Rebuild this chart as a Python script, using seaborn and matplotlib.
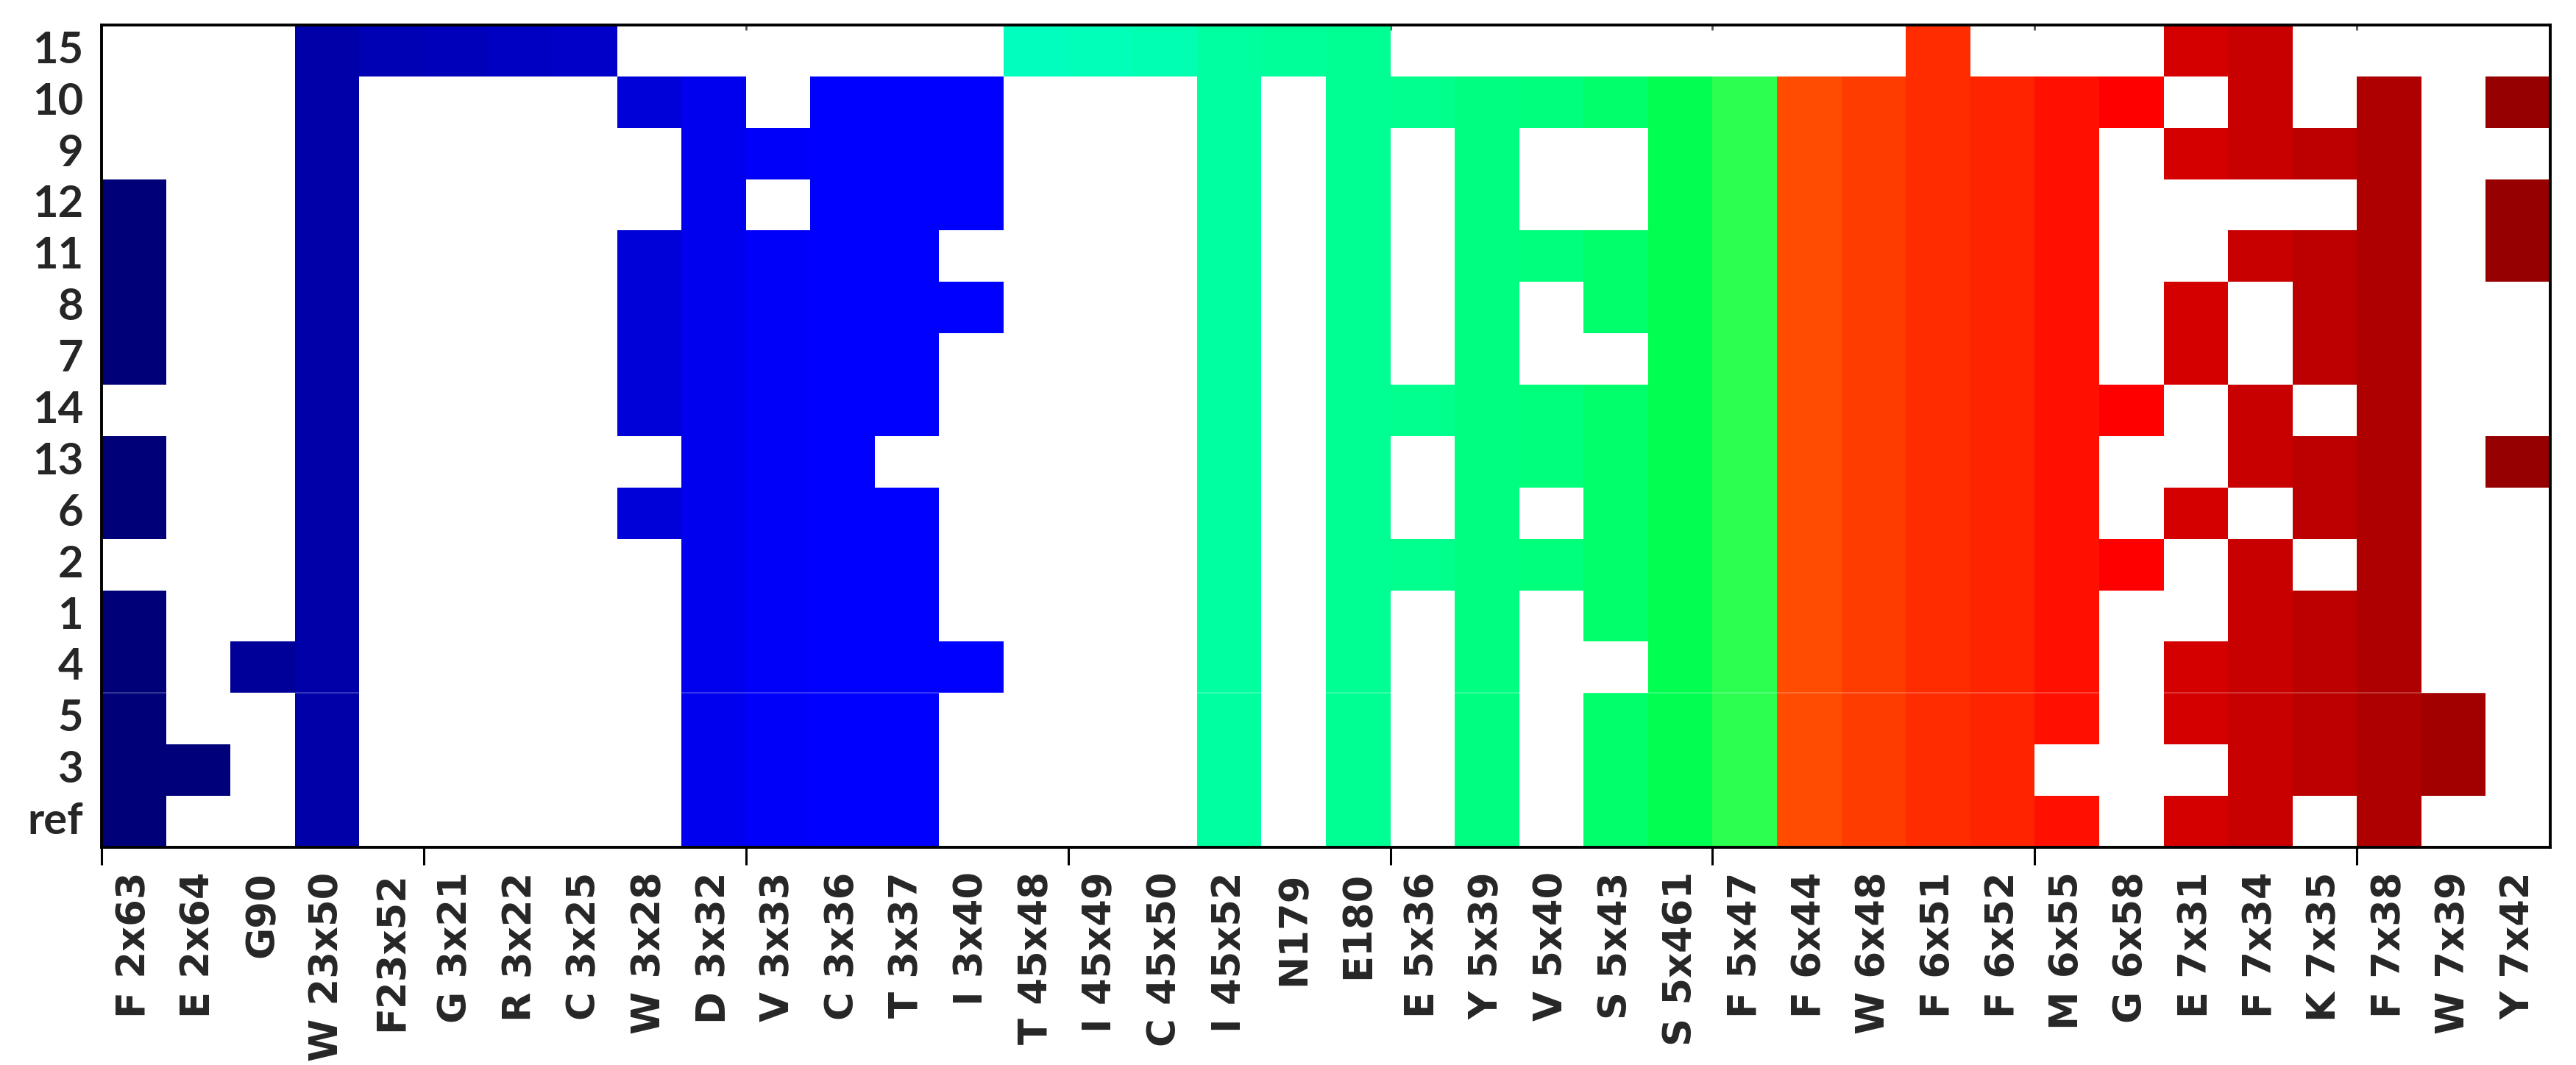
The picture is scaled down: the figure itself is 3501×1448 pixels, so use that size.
import numpy as np
import pandas as pd
import matplotlib
matplotlib.use("Agg")
import matplotlib.pyplot as plt
import seaborn as sns
from matplotlib.colors import ListedColormap

sns.set_style("white")
plt.rcParams["font.family"] = ["DejaVu Sans"]

row_labels = ["15", "10", "9", "12", "11", "8", "7", "14", "13", "6", "2", "1", "4", "5", "3", "ref"]

col_labels = ["F 2x63", "E 2x64", "G90", "W 23x50", "F23x52", "G 3x21", "R 3x22", "C 3x25",
              "W 3x28", "D 3x32", "V 3x33", "C 3x36", "T 3x37", "I 3x40", "T 45x48", "I 45x49",
              "C 45x50", "I 45x52", "N179", "E180", "E 5x36", "Y 5x39", "V 5x40", "S 5x43",
              "S 5x461", "F 5x47", "F 6x44", "W 6x48", "F 6x51", "F 6x52", "M 6x55", "G 6x58",
              "E 7x31", "F 7x34", "K 7x35", "F 7x38", "W 7x39", "Y 7x42"]

col_colors = ["#000078", "#00007a", "#000098", "#0000a8", "#0000b4", "#0000bb", "#0000c2", "#0000c9",
              "#0000d8", "#0000ee", "#0000fa", "#0000ff", "#0000ff", "#0000ff", "#00ffbe", "#00ffb8",
              "#00ffb0", "#00ff9e", "#00ff98", "#00ff92", "#00ff8c", "#00ff80", "#00ff7a", "#00ff6a",
              "#00ff50", "#2cff50", "#ff4c00", "#ff3c00", "#ff2c00", "#ff2400", "#ff1000", "#ff0000",
              "#d40000", "#c80000", "#bc0000", "#ae0000", "#a20000", "#960000"]

# presence per column, rows ordered as row_labels (top to bottom)
F_2x63  = [0,0,0,1,1,1,1,0,1,1,0,1,1,1,1,1]
E_2x64  = [0,0,0,0,0,0,0,0,0,0,0,0,0,0,1,0]
G90     = [0,0,0,0,0,0,0,0,0,0,0,0,1,0,0,0]
W_23x50 = [1,1,1,1,1,1,1,1,1,1,1,1,1,1,1,1]
F23x52  = [1,0,0,0,0,0,0,0,0,0,0,0,0,0,0,0]
G_3x21  = [1,0,0,0,0,0,0,0,0,0,0,0,0,0,0,0]
R_3x22  = [1,0,0,0,0,0,0,0,0,0,0,0,0,0,0,0]
C_3x25  = [1,0,0,0,0,0,0,0,0,0,0,0,0,0,0,0]
W_3x28  = [0,1,0,0,1,1,1,1,0,1,0,0,0,0,0,0]
D_3x32  = [0,1,1,1,1,1,1,1,1,1,1,1,1,1,1,1]
V_3x33  = [0,0,1,0,1,1,1,1,1,1,1,1,1,1,1,1]
C_3x36  = [0,1,1,1,1,1,1,1,1,1,1,1,1,1,1,1]
T_3x37  = [0,1,1,1,1,1,1,1,0,1,1,1,1,1,1,1]
I_3x40  = [0,1,1,1,0,1,0,0,0,0,0,0,1,0,0,0]
T_45x48 = [1,0,0,0,0,0,0,0,0,0,0,0,0,0,0,0]
I_45x49 = [1,0,0,0,0,0,0,0,0,0,0,0,0,0,0,0]
C_45x50 = [1,0,0,0,0,0,0,0,0,0,0,0,0,0,0,0]
I_45x52 = [1,1,1,1,1,1,1,1,1,1,1,1,1,1,1,1]
N179    = [1,0,0,0,0,0,0,0,0,0,0,0,0,0,0,0]
E180    = [1,1,1,1,1,1,1,1,1,1,1,1,1,1,1,1]
E_5x36  = [0,1,0,0,0,0,0,1,0,0,1,0,0,0,0,0]
Y_5x39  = [0,1,1,1,1,1,1,1,1,1,1,1,1,1,1,1]
V_5x40  = [0,1,0,0,1,0,0,1,1,0,1,0,0,0,0,0]
S_5x43  = [0,1,0,0,1,1,0,1,1,1,1,1,0,1,1,1]
S_5x461 = [0,1,1,1,1,1,1,1,1,1,1,1,1,1,1,1]
F_5x47  = [0,1,1,1,1,1,1,1,1,1,1,1,1,1,1,1]
F_6x44  = [0,1,1,1,1,1,1,1,1,1,1,1,1,1,1,1]
W_6x48  = [0,1,1,1,1,1,1,1,1,1,1,1,1,1,1,1]
F_6x51  = [1,1,1,1,1,1,1,1,1,1,1,1,1,1,1,1]
F_6x52  = [0,1,1,1,1,1,1,1,1,1,1,1,1,1,1,1]
M_6x55  = [0,1,1,1,1,1,1,1,1,1,1,1,1,1,0,1]
G_6x58  = [0,1,0,0,0,0,0,1,0,0,1,0,0,0,0,0]
E_7x31  = [1,0,1,0,0,1,1,0,0,1,0,0,1,1,0,1]
F_7x34  = [1,1,1,0,1,0,0,1,1,0,1,1,1,1,1,1]
K_7x35  = [0,0,1,0,1,1,1,0,1,1,0,1,1,1,1,0]
F_7x38  = [0,1,1,1,1,1,1,1,1,1,1,1,1,1,1,1]
W_7x39  = [0,0,0,0,0,0,0,0,0,0,0,0,0,1,1,0]
Y_7x42  = [0,1,0,1,1,0,0,0,1,0,0,0,0,0,0,0]

presence = [F_2x63, E_2x64, G90, W_23x50, F23x52, G_3x21, R_3x22, C_3x25, W_3x28, D_3x32,
            V_3x33, C_3x36, T_3x37, I_3x40, T_45x48, I_45x49, C_45x50, I_45x52, N179, E180,
            E_5x36, Y_5x39, V_5x40, S_5x43, S_5x461, F_5x47, F_6x44, W_6x48, F_6x51, F_6x52,
            M_6x55, G_6x58, E_7x31, F_7x34, K_7x35, F_7x38, W_7x39, Y_7x42]

pres = np.array(presence).T  # rows x cols
ncol = len(col_labels)
nrow = len(row_labels)
vals = np.where(pres == 1, np.arange(ncol)[None, :].astype(float), np.nan)
df = pd.DataFrame(vals, index=row_labels, columns=col_labels)

fig = plt.figure(figsize=(35.01, 14.48), dpi=100)
ax = fig.add_axes([0.0394, 0.2044, 0.9506, 0.7722])

sns.heatmap(df, cmap=ListedColormap(col_colors), vmin=-0.5, vmax=ncol - 0.5,
            cbar=False, ax=ax, linewidths=0)

ax.axhline(13, color="white", alpha=0.25, lw=1.2)

# x ticks: major at every 5 column edges, labels on minor ticks at centres
ax.set_xticks(np.arange(0, ncol, 5))
ax.set_xticklabels([])
ax.set_xticks(np.arange(ncol) + 0.5, minor=True)
ax.set_xticklabels(col_labels, minor=True, rotation=90, fontsize=38, fontweight="bold",
                   family="DejaVu Sans")
ax.tick_params(axis="x", which="major", direction="out", length=17, width=2.2,
               color="black", bottom=True)
ax.tick_params(axis="x", which="minor", length=0, pad=24, bottom=True)

ax.set_yticks(np.arange(nrow) + 0.5)
ax.set_yticklabels(row_labels, rotation=0, fontsize=43, fontweight="bold", family="Lato")
ax.tick_params(axis="y", which="both", length=0, pad=18, left=True)

ax.set_xlabel("")
ax.set_ylabel("")

top = ax.secondary_xaxis("top")
top.set_xticks(np.arange(0, ncol, 5))
top.set_xticklabels([])
top.tick_params(direction="in", length=5, width=2, color="#555555")
top.spines["top"].set_visible(False)

for s in ["left", "right", "top", "bottom"]:
    ax.spines[s].set_visible(True)
    ax.spines[s].set_color("black")
    ax.spines[s].set_linewidth(2.8)

fig.savefig("out.png", dpi=100, facecolor="white")
